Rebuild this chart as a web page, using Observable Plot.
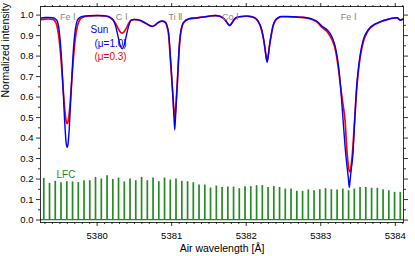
<!DOCTYPE html>
<html><head><meta charset="utf-8">
<script src="https://cdn.jsdelivr.net/npm/d3@7"></script>
<script src="https://cdn.jsdelivr.net/npm/@observablehq/plot@0.6"></script>
<style>body{margin:0;background:#fff}</style>
</head><body><div id="chart"></div>
<script>
// Solar spectrum samples (air wavelength, Å)
const wavelength = [5379.25,5379.30,5379.35,5379.40,5379.43,5379.46,5379.49,5379.52,5379.545,5379.57,5379.585,5379.598,5379.61,5379.625,5379.65,5379.675,5379.705,5379.735,5379.765,5379.80,5379.85,5379.90,5379.95,5380.00,5380.05,5380.10,5380.15,5380.185,5380.215,5380.245,5380.275,5380.305,5380.335,5380.365,5380.395,5380.425,5380.455,5380.50,5380.58,5380.65,5380.70,5380.74,5380.78,5380.81,5380.87,5380.915,5380.94,5380.96,5380.975,5380.992,5381.006,5381.019,5381.030,5381.041,5381.052,5381.063,5381.075,5381.086,5381.100,5381.117,5381.14,5381.161,5381.23,5381.34,5381.40,5381.475,5381.53,5381.59,5381.64,5381.68,5381.72,5381.745,5381.778,5381.81,5381.84,5381.88,5381.95,5382.01,5382.06,5382.10,5382.14,5382.17,5382.20,5382.225,5382.245,5382.265,5382.28,5382.295,5382.315,5382.335,5382.36,5382.39,5382.43,5382.47,5382.55,5382.63,5382.72,5382.816,5382.88,5382.95,5383.017,5383.084,5383.151,5383.196,5383.24,5383.27,5383.30,5383.326,5383.352,5383.37,5383.383,5383.395,5383.41,5383.432,5383.455,5383.475,5383.50,5383.531,5383.575,5383.62,5383.665,5383.71,5383.755,5383.82,5383.889,5383.95,5384.023,5384.067,5384.10];
// Sun, disk centre (mu = 1.0)
const sunMu10 = [0.986,0.988,0.988,0.987,0.984,0.974,0.926,0.800,0.626,0.445,0.374,0.355,0.373,0.441,0.620,0.795,0.924,0.975,0.988,0.993,0.996,0.997,0.997,0.998,0.997,0.996,0.992,0.986,0.976,0.950,0.905,0.857,0.836,0.857,0.905,0.950,0.974,0.979,0.974,0.961,0.950,0.945,0.952,0.962,0.971,0.966,0.945,0.909,0.840,0.746,0.665,0.583,0.505,0.440,0.505,0.583,0.665,0.746,0.840,0.909,0.950,0.966,0.982,0.987,0.990,0.994,0.996,0.998,0.995,0.988,0.976,0.962,0.950,0.963,0.980,0.990,0.994,0.995,0.993,0.989,0.980,0.964,0.938,0.900,0.855,0.800,0.770,0.800,0.858,0.905,0.950,0.975,0.988,0.993,0.993,0.992,0.990,0.987,0.981,0.970,0.946,0.929,0.893,0.844,0.746,0.630,0.485,0.360,0.263,0.205,0.160,0.200,0.250,0.325,0.485,0.620,0.725,0.811,0.885,0.920,0.941,0.953,0.961,0.971,0.978,0.984,0.987,0.975,0.980];
// Sun, near limb (mu = 0.3)
const sunMu03 = [0.978,0.980,0.981,0.979,0.973,0.948,0.883,0.764,0.636,0.523,0.482,0.470,0.480,0.519,0.631,0.759,0.880,0.947,0.976,0.988,0.994,0.996,0.997,0.997,0.997,0.996,0.993,0.985,0.976,0.960,0.939,0.920,0.912,0.920,0.939,0.960,0.975,0.978,0.973,0.960,0.950,0.945,0.952,0.961,0.970,0.964,0.940,0.900,0.825,0.735,0.660,0.595,0.535,0.500,0.535,0.595,0.665,0.740,0.830,0.900,0.945,0.963,0.981,0.986,0.990,0.993,0.996,0.997,0.995,0.988,0.975,0.961,0.949,0.962,0.979,0.989,0.993,0.995,0.993,0.989,0.979,0.962,0.935,0.897,0.855,0.803,0.776,0.803,0.857,0.900,0.945,0.972,0.986,0.992,0.992,0.991,0.989,0.985,0.979,0.966,0.940,0.920,0.880,0.830,0.730,0.640,0.560,0.485,0.330,0.265,0.238,0.236,0.270,0.360,0.490,0.600,0.710,0.800,0.875,0.914,0.937,0.950,0.959,0.970,0.978,0.984,0.987,0.976,0.980];
// Laser frequency comb peaks
const lfcWavelength = [5379.284,5379.361,5379.438,5379.515,5379.593,5379.670,5379.747,5379.824,5379.901,5379.978,5380.056,5380.133,5380.210,5380.287,5380.364,5380.441,5380.518,5380.596,5380.673,5380.750,5380.827,5380.904,5380.981,5381.058,5381.136,5381.213,5381.290,5381.367,5381.444,5381.521,5381.599,5381.676,5381.753,5381.830,5381.907,5381.984,5382.061,5382.139,5382.216,5382.293,5382.370,5382.447,5382.524,5382.601,5382.679,5382.756,5382.833,5382.910,5382.987,5383.064,5383.142,5383.219,5383.296,5383.373,5383.450,5383.527,5383.604,5383.682,5383.759,5383.836,5383.913,5383.990,5384.067];
const lfcHeight = [0.203,0.179,0.189,0.182,0.187,0.186,0.183,0.192,0.192,0.208,0.200,0.216,0.198,0.205,0.186,0.200,0.192,0.208,0.192,0.205,0.187,0.205,0.195,0.200,0.189,0.187,0.182,0.171,0.171,0.156,0.166,0.159,0.161,0.161,0.153,0.163,0.163,0.168,0.168,0.159,0.164,0.159,0.151,0.151,0.140,0.140,0.147,0.143,0.148,0.153,0.148,0.147,0.151,0.143,0.151,0.159,0.159,0.155,0.155,0.148,0.143,0.135,0.135];
// Line identifications
const lineIds = ["Fe \u2160","C \u2160","Ti \u2161","Co \u2160","Fe \u2160"];
const lineWavelength = [5379.61,5380.33,5381.05,5381.79,5383.375];
// Ticks
const xTicks = [5380,5381,5382,5383,5384];
const yTicks = [0,0.1,0.2,0.3,0.4,0.5,0.6,0.7,0.8,0.9,1.0];
const xMinor = d3.range(53793, 53842).filter(v => v % 10 !== 0).map(v => v / 10);
const yMinor = [0.05,0.15,0.25,0.35,0.45,0.55,0.65,0.75,0.85,0.95];

const blue = "#0000ff", red = "#ff0000", green = "#228b22";
const spec = wavelength.map((w, i) => ({w, b: sunMu10[i], r: sunMu03[i]}));
const lfc = lfcWavelength.map((w, i) => ({w, h: lfcHeight[i]}));
const blank = () => "";
const ax = {label: null, stroke: "#000", strokeWidth: 0.8};

const chart = Plot.plot({
  width: 415, height: 256,
  marginLeft: 40, marginRight: 12, marginTop: 6, marginBottom: 34,
  style: {fontFamily: "'Liberation Sans', Arial, sans-serif", fontSize: "9px", background: "#fff", color: "#000"},
  x: {domain: [5379.24, 5384.11], axis: null},
  y: {domain: [-0.012, 1.042], axis: null},
  marks: [
    Plot.ruleY([0.002], {stroke: green, strokeWidth: 1.2}),
    Plot.ruleX(lfc, {x: "w", y1: 0, y2: "h", stroke: green, strokeWidth: 1.7}),
    Plot.line(spec, {x: "w", y: "r", stroke: red, strokeWidth: 1.7, curve: "monotone-x"}),
    Plot.line(spec, {x: "w", y: "b", stroke: blue, strokeWidth: 1.4, curve: "monotone-x"}),
    Plot.frame({stroke: "#000", strokeWidth: 0.8}),
    Plot.axisX(xTicks, {...ax, anchor: "bottom", tickSize: 4, tickPadding: 6, tickFormat: d => String(d), fontSize: 9.5}),
    Plot.axisX(xMinor, {...ax, anchor: "bottom", tickSize: 2, tickFormat: blank}),
    Plot.axisX(xTicks, {...ax, anchor: "top", tickSize: 4, tickFormat: blank}),
    Plot.axisX(xMinor, {...ax, anchor: "top", tickSize: 2, tickFormat: blank}),
    Plot.axisY(yTicks, {...ax, anchor: "left", tickSize: 4, tickPadding: 3, tickFormat: d3.format(".1f"), fontSize: 9.5}),
    Plot.axisY(yMinor, {...ax, anchor: "left", tickSize: 2, tickFormat: blank}),
    Plot.axisY(yTicks, {...ax, anchor: "right", tickSize: 4, tickFormat: blank}),
    Plot.axisY(yMinor, {...ax, anchor: "right", tickSize: 2, tickFormat: blank}),
    Plot.text(lineWavelength, {x: d => d, text: (d, i) => lineIds[i], frameAnchor: "top", dy: 7.5, fill: "#888", fontSize: 9}),
    Plot.text(["Sun"], {frameAnchor: "top-left", dx: 50, dy: 19.3, fill: blue, fontSize: 10}),
    Plot.text(["(\u03bc=1.0)"], {frameAnchor: "top-left", dx: 54, dy: 33.5, fill: blue, fontSize: 10}),
    Plot.text(["(\u03bc=0.3)"], {frameAnchor: "top-left", dx: 54, dy: 46, fill: red, fontSize: 10}),
    Plot.text(["LFC"], {frameAnchor: "top-left", dx: 16, dy: 164.7, fill: green, fontSize: 10}),
    Plot.text(["Air wavelength [\u00c5]"], {frameAnchor: "bottom", dy: 29.5, fontSize: 10.5}),
    Plot.text(["Normalized intensity"], {frameAnchor: "left", rotate: -90, dx: -34.5, dy: -17, fontSize: 10.5})
  ]
});
document.getElementById("chart").appendChild(chart);
</script>
</body></html>
